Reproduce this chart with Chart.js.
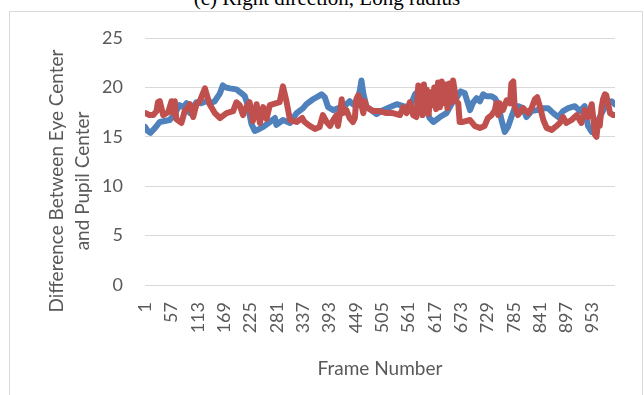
<!DOCTYPE html>
<html>
<head>
<meta charset="utf-8">
<script src="https://cdn.jsdelivr.net/npm/chart.js@4/dist/chart.umd.min.js"></script>
<style>
  html, body { margin: 0; padding: 0; background: #fff; }
  #wrap { position: relative; width: 644px; height: 395px; overflow: hidden; }
  #frame { position: absolute; left: 9px; top: 11px; width: 634px; height: 400px;
           border: 1px solid #d9d9d9; box-sizing: border-box; }
  #caption { position: absolute; left: 0; top: -12px; width: 654px; text-align: center;
             font: 21px/21px "Liberation Serif", "Times New Roman", serif; color: #000;
             white-space: nowrap; }
  #c { position: absolute; left: 0; top: 0; }
</style>
</head>
<body>
<div id="wrap">
  <div id="frame"></div>
  <div id="caption">(c) Right direction, Long radius</div>
  <canvas id="c" width="644" height="395"></canvas>
</div>
<script>
// Frame labels shown on the horizontal axis
const xTickLabels = [1, 57, 113, 169, 225, 281, 337, 393, 449, 505, 561, 617, 673, 729, 785, 841, 897, 953];
const yTitleLines = ['Difference Between Eye Center', 'and Pupil Center'];
const xTitle = 'Frame Number';

// Series 1 (blue): sampled frames and values
const blueFrames = [1, 6, 12, 22, 32, 42, 53, 62, 74, 82, 89, 96, 103, 110, 120, 131, 140, 149, 160, 166,
  172, 181, 195, 206, 213, 219, 227, 234, 244, 252, 266, 277, 280, 294, 309, 323, 337, 344, 358, 369,
  376, 383, 390, 401, 411, 422, 436, 443, 450, 458, 461, 465, 472, 482, 493, 507, 521, 536, 550, 564,
  575, 582, 592, 600, 606, 614, 628, 642, 656, 663, 672, 681, 692, 699, 706, 713, 720, 727, 738, 745,
  752, 759, 766, 773, 780, 787, 794, 805, 812, 823, 834, 848, 858, 869, 880, 890, 901, 915, 926, 936,
  943, 951, 961, 968, 982, 993, 1000];
const blueValues = [16.0, 15.6, 15.4, 15.9, 16.5, 16.6, 16.7, 17.2, 18.2, 18.0, 18.4, 17.4, 18.0, 18.5, 18.4, 18.6, 18.4, 18.6, 19.4, 20.2,
  20.0, 19.9, 19.8, 19.4, 19.1, 18.2, 16.3, 15.6, 15.8, 16.0, 16.5, 16.9, 16.2, 16.7, 16.4, 17.4, 17.9, 18.3, 18.8, 19.1,
  19.3, 19.0, 18.0, 17.7, 17.9, 18.0, 18.6, 18.3, 18.1, 19.8, 20.7, 19.4, 18.0, 17.7, 17.3, 17.7, 18.0, 18.3, 18.1, 18.0,
  19.3, 19.6, 18.6, 17.7, 16.9, 16.5, 17.0, 17.4, 18.6, 18.9, 19.6, 19.4, 17.7, 18.5, 18.9, 18.6, 19.3, 19.1, 19.1, 18.9,
  18.3, 16.7, 15.5, 16.0, 17.0, 17.9, 18.1, 17.9, 17.0, 17.6, 17.7, 17.9, 17.9, 17.4, 17.0, 17.6, 17.9, 18.1, 17.6, 18.1,
  16.1, 15.5, 16.0, 17.0, 18.3, 18.6, 18.3];

// Series 2 (red): sampled frames and values
const redFrames = [1, 10, 18, 25, 28, 32, 39, 50, 57, 60, 64, 67, 78, 85, 96, 103, 110, 117, 128, 131,
  138, 149, 160, 174, 188, 195, 202, 209, 216, 223, 230, 238, 245, 252, 259, 266, 273, 287, 294, 301,
  309, 323, 335, 340, 351, 362, 372, 379, 387, 394, 401, 408, 411, 415, 419, 422, 429, 436, 443, 447,
  450, 454, 458, 465, 468, 472, 486, 500, 514, 528, 543, 550, 557, 564, 571, 578, 582, 585, 588, 591,
  594, 597, 600, 604, 608, 612, 616, 620, 624, 628, 632, 636, 640, 644, 648, 652, 656, 663, 667, 670,
  677, 692, 702, 713, 723, 730, 738, 745, 748, 752, 755, 762, 770, 777, 780, 784, 787, 794, 805, 816,
  823, 830, 835, 841, 848, 855, 866, 876, 883, 890, 897, 908, 919, 929, 936, 943, 951, 954, 958, 961,
  965, 968, 972, 975, 979, 982, 986, 990, 997, 1000];
const redValues = [17.4, 17.2, 17.2, 17.6, 18.5, 18.6, 17.2, 17.5, 18.6, 17.4, 18.6, 16.8, 16.4, 17.6, 18.3, 17.0, 18.3, 18.6, 19.9, 19.4,
  18.3, 17.4, 16.9, 17.4, 17.6, 18.5, 18.2, 17.2, 18.0, 18.5, 16.6, 18.3, 16.4, 18.0, 16.8, 18.2, 18.3, 18.5, 20.1, 18.7,
  16.7, 16.5, 16.9, 16.5, 16.1, 15.8, 16.0, 17.2, 16.5, 16.1, 16.7, 17.2, 16.1, 17.2, 18.8, 17.4, 17.7, 16.9, 16.5, 16.9,
  18.8, 19.2, 18.8, 17.4, 18.6, 18.0, 17.6, 17.6, 17.4, 17.4, 17.2, 18.0, 17.4, 18.5, 17.2, 17.0, 20.2, 17.5, 20.0, 17.2,
  20.3, 17.6, 19.8, 17.3, 19.5, 18.2, 20.0, 17.8, 20.5, 18.0, 20.6, 18.4, 20.3, 17.9, 20.4, 18.5, 20.7, 18.6, 18.4, 16.5,
  16.5, 16.7, 16.1, 15.9, 16.1, 16.9, 17.2, 17.7, 18.4, 17.2, 18.4, 17.7, 18.7, 18.4, 20.4, 20.6, 18.0, 17.2, 17.9, 17.4,
  17.9, 18.8, 19.0, 18.0, 16.7, 15.9, 15.7, 16.1, 16.4, 17.0, 16.4, 16.7, 17.2, 16.4, 17.7, 17.0, 18.3, 17.0, 15.2, 15.0,
  16.7, 16.1, 18.0, 18.8, 19.3, 19.2, 18.3, 17.4, 17.2, 17.2];

const toPoints = (frames, values) => frames.map((f, i) => ({ x: f, y: values[i] }));

const textColor = '#595959';
const gridColor = '#d9d9d9';

// Two-line vertical axis title, drawn rotated beside the value labels
const yTitlePlugin = {
  id: 'yTitle',
  afterDraw(chart) {
    const ctx = chart.ctx;
    ctx.save();
    ctx.fillStyle = textColor;
    ctx.font = '19px Lato';
    ctx.textAlign = 'center';
    ctx.textBaseline = 'middle';
    yTitleLines.forEach((line, i) => {
      ctx.save();
      ctx.translate(57 + i * 26, 181);
      ctx.rotate(-Math.PI / 2);
      ctx.fillText(line, 0, 0);
      ctx.restore();
    });
    ctx.restore();
  }
};

new Chart(document.getElementById('c'), {
  type: 'line',
  data: {
    datasets: [
      {
        label: 'Series1',
        data: toPoints(blueFrames, blueValues),
        borderColor: '#4F81BD',
        borderWidth: 6,
        pointRadius: 0,
        tension: 0,
        borderJoinStyle: 'round',
        borderCapStyle: 'round',
        order: 2
      },
      {
        label: 'Series2',
        data: toPoints(redFrames, redValues),
        borderColor: '#C0504D',
        borderWidth: 6,
        pointRadius: 0,
        tension: 0,
        borderJoinStyle: 'round',
        borderCapStyle: 'round',
        order: 1
      }
    ]
  },
  options: {
    responsive: false,
    animation: false,
    layout: { padding: { left: 0, top: 38, right: 29, bottom: 0 } },
    plugins: { legend: { display: false }, tooltip: { enabled: false }, title: { display: false } },
    scales: {
      x: {
        type: 'linear',
        min: 0.5,
        max: 1000.5,
        afterBuildTicks: s => { s.ticks = xTickLabels.map(v => ({ value: v })); },
        afterFit: s => { s.height = 110; },
        grid: { display: false, drawTicks: false },
        border: { display: false },
        ticks: {
          autoSkip: false,
          minRotation: 90,
          maxRotation: 90,
          padding: 17,
          color: textColor,
          font: { family: 'Lato', size: 18 },
          callback: v => String(v)
        },
        title: {
          display: true,
          text: xTitle,
          color: textColor,
          font: { family: 'Lato', size: 19 },
          padding: { top: 0, bottom: 15 }
        }
      },
      y: {
        min: 0,
        max: 25,
        afterFit: s => { s.width = 145; },
        grid: { color: gridColor, lineWidth: 1, drawTicks: false },
        border: { display: false },
        ticks: {
          stepSize: 5,
          padding: 22,
          color: textColor,
          font: { family: 'Lato', size: 18 }
        }
      }
    }
  },
  plugins: [yTitlePlugin]
});
</script>
</body>
</html>
